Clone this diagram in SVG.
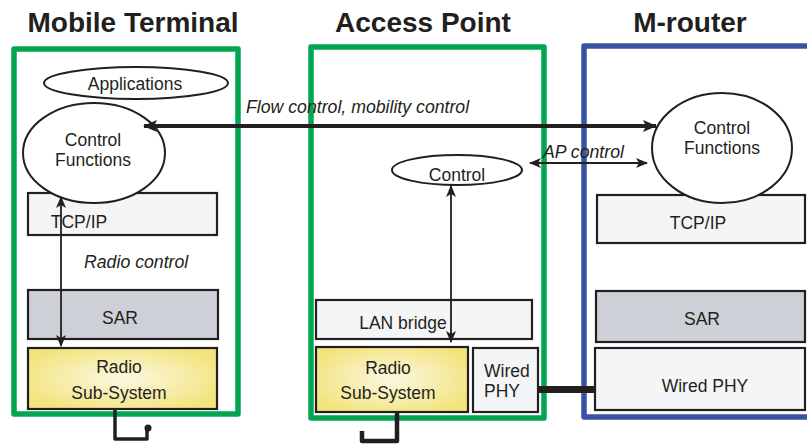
<svg xmlns="http://www.w3.org/2000/svg" width="807" height="445" viewBox="0 0 807 445">
  <defs>
    <radialGradient id="radioFill" cx="0.5" cy="0.5" r="0.6">
      <stop offset="0" stop-color="#fbf8e2"/>
      <stop offset="1" stop-color="#f2e37a"/>
    </radialGradient>
    <marker id="arrowHead" viewBox="0 0 12 10" refX="11" refY="5" markerWidth="12" markerHeight="10" markerUnits="userSpaceOnUse" orient="auto-start-reverse">
      <path d="M0,0 L12,5 L0,10 L3,5 Z" fill="#231f20"/>
    </marker>
    <marker id="arrowHeadBig" viewBox="0 0 14 12" refX="13" refY="6" markerWidth="14" markerHeight="12" markerUnits="userSpaceOnUse" orient="auto-start-reverse">
      <path d="M0,0 L14,6 L0,12 L3,6 Z" fill="#231f20"/>
    </marker>
  </defs>
  <style>
    text { font-family: "Liberation Sans", Arial, sans-serif; fill: #231f20; }
    .title { font-size: 28px; font-weight: bold; text-anchor: middle; }
    .lbl { font-size: 17.5px; text-anchor: middle; }
    .it { font-size: 17.7px; font-style: italic; }
    .box { fill: #f4f5f7; stroke: #231f20; stroke-width: 2.2; }
    .sar { fill: #cdd0d7; stroke: #231f20; stroke-width: 2.2; }
    .radio { fill: url(#radioFill); stroke: #231f20; stroke-width: 2.2; }
    .ell { fill: #ffffff; stroke: #231f20; stroke-width: 2; }
    .green { fill: none; stroke: #00a651; stroke-width: 5.5; stroke-linejoin: round; }
    .blue { fill: none; stroke: #3953a4; stroke-width: 5.5; stroke-linejoin: round; }
    .wire { fill: none; stroke: #231f20; stroke-linejoin: round; }
  </style>

  <!-- Titles -->
  <text class="title" x="133" y="32">Mobile Terminal</text>
  <text class="title" x="423" y="32">Access Point</text>
  <text class="title" x="690" y="32">M-router</text>

  <!-- Mobile Terminal -->
  <g id="mobile-terminal">
    <rect class="green" x="14" y="49" width="224" height="365"/>
    <g id="mt-applications">
      <ellipse class="ell" cx="136" cy="83" rx="92" ry="16"/>
      <text class="lbl" x="135" y="90">Applications</text>
    </g>
    <g id="mt-tcpip">
      <rect class="box" x="28" y="193" width="189" height="42"/>
      <text class="lbl" x="79" y="228">TCP/IP</text>
    </g>
    <g id="mt-control">
      <ellipse class="ell" cx="94" cy="153" rx="71" ry="50"/>
      <text class="lbl" x="93" y="146">Control</text>
      <text class="lbl" x="93" y="166">Functions</text>
    </g>
    <g id="mt-sar">
      <rect class="sar" x="28" y="290" width="190" height="49"/>
      <text class="lbl" x="120" y="324">SAR</text>
    </g>
    <g id="mt-radio">
      <rect class="radio" x="28" y="348" width="189" height="61"/>
      <text class="lbl" x="119" y="373">Radio</text>
      <text class="lbl" x="119" y="399">Sub-System</text>
    </g>
  </g>

  <!-- Access Point -->
  <g id="access-point">
    <rect class="green" x="311" y="47" width="233" height="371"/>
    <g id="ap-control">
      <ellipse class="ell" cx="457" cy="170" rx="65" ry="15"/>
      <text class="lbl" x="457" y="181">Control</text>
    </g>
    <g id="ap-lan-bridge">
      <rect class="box" x="316" y="300" width="216" height="39"/>
      <text class="lbl" x="403" y="329">LAN bridge</text>
    </g>
    <g id="ap-radio">
      <rect class="radio" x="316" y="347" width="152" height="65"/>
      <text class="lbl" x="388" y="374">Radio</text>
      <text class="lbl" x="388" y="399">Sub-System</text>
    </g>
    <g id="ap-wired-phy">
      <rect class="box" x="473" y="348" width="65" height="64"/>
      <text class="lbl" x="484" y="377" style="text-anchor:start">Wired</text>
      <text class="lbl" x="484" y="397" style="text-anchor:start">PHY</text>
    </g>
  </g>

  <!-- M-router -->
  <g id="m-router">
    <path class="blue" d="M812,46 L584,46 L584,417 L812,417"/>
    <g id="mr-tcpip">
      <rect class="box" x="597" y="195" width="208" height="48"/>
      <text class="lbl" x="698" y="229">TCP/IP</text>
    </g>
    <g id="mr-control">
      <ellipse class="ell" cx="722" cy="148" rx="70" ry="55"/>
      <text class="lbl" x="722" y="134">Control</text>
      <text class="lbl" x="722" y="154">Functions</text>
    </g>
    <g id="mr-sar">
      <rect class="sar" x="596" y="291" width="209" height="51"/>
      <text class="lbl" x="702" y="325">SAR</text>
    </g>
    <g id="mr-wired-phy">
      <rect class="box" x="595" y="348" width="210" height="62"/>
      <text class="lbl" x="705" y="392">Wired PHY</text>
    </g>
  </g>

  <!-- Connectors -->
  <g id="connectors">
    <!-- flow / mobility control between terminal and router -->
    <line x1="144" y1="126" x2="656" y2="126" stroke="#231f20" stroke-width="4" marker-start="url(#arrowHeadBig)" marker-end="url(#arrowHeadBig)"/>
    <text class="it" x="246" y="113">Flow control, mobility control</text>

    <!-- AP control -->
    <line x1="530" y1="163" x2="647" y2="163" stroke="#231f20" stroke-width="2" marker-start="url(#arrowHead)" marker-end="url(#arrowHead)"/>
    <text class="it" x="543" y="158">AP control</text>

    <!-- radio control inside the terminal -->
    <line x1="61" y1="197" x2="61" y2="346" stroke="#231f20" stroke-width="1.8" marker-start="url(#arrowHead)" marker-end="url(#arrowHead)"/>
    <text class="it" x="84" y="268">Radio control</text>

    <!-- AP control to radio -->
    <line x1="451" y1="186" x2="451" y2="342" stroke="#231f20" stroke-width="1.8" marker-start="url(#arrowHead)" marker-end="url(#arrowHead)"/>

    <!-- wired link AP to router -->
    <line x1="538" y1="389.5" x2="595" y2="389.5" stroke="#231f20" stroke-width="7"/>

    <!-- antenna leads -->
    <path class="wire" d="M115,409 L115,439 L147,439 L147,429" stroke-width="3.5"/>
    <circle cx="148" cy="428" r="3.5" fill="#231f20"/>
    <path class="wire" d="M397,412 L397,441 L362,441 L362,431" stroke-width="4.5"/>
  </g>
</svg>
